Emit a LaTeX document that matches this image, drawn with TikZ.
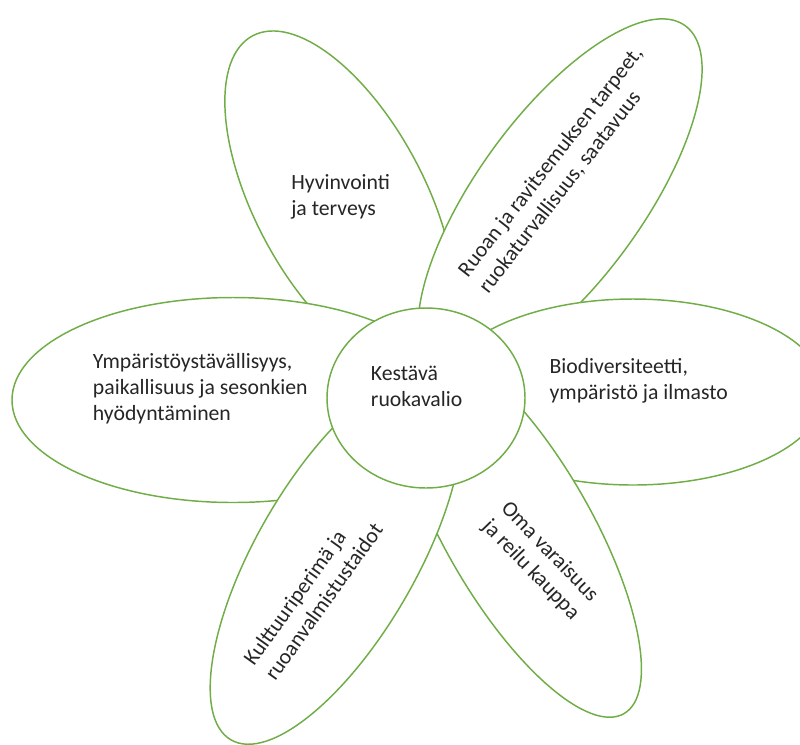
\documentclass[tikz,border=0pt]{standalone}
\usepackage{fontspec}
\setmainfont{Carlito}
\usetikzlibrary{shapes.geometric}
\definecolor{petalgreen}{HTML}{70AD47}
\definecolor{txt}{HTML}{262626}
\begin{document}
\begin{tikzpicture}[x=0.75pt,y=-0.75pt,
  petal/.style={ellipse, draw=petalgreen, line width=1.1pt, fill=white, inner sep=0pt},
  lbl/.style={font=\fontsize{16.3}{19.5}\selectfont, text=txt, inner sep=0pt, align=left}]
\useasboundingbox (0,0) rectangle (800,744);
\node[petal, minimum width=127.5pt, minimum height=279pt, rotate=28] (p1) at (340,200) {};
\node[petal, minimum width=331.5pt, minimum height=153.75pt] (p6) at (233,400) {};
\node[petal, minimum width=124.5pt, minimum height=319.5pt, rotate=-36] (p2) at (560,198) {};
\node[petal, minimum width=288pt, minimum height=139.5pt] (p3) at (633,392) {};
\node[petal, minimum width=109.5pt, minimum height=318pt, rotate=30] (p4) at (518,530) {};
\node[petal, minimum width=120pt, minimum height=315pt, rotate=-30] (p5) at (336,558) {};
\node[petal, minimum width=148.5pt, minimum height=135pt] (c) at (426,398) {};
\node[lbl, anchor=west] (t1) at (291,196.8) {Hyvinvointi\\ja terveys};
\node[lbl, anchor=west] (t6) at (92.7,389) {Ympäristöystävällisyys,\\paikallisuus ja sesonkien\\hyödyntäminen};
\node[lbl, anchor=west] (tc) at (370.7,386.5) {Kestävä\\ruokavalio};
\node[lbl, anchor=west] (t3) at (549.3,380.5) {Biodiversiteetti,\\ympäristö ja ilmasto};
\node[lbl, rotate=52] (t2) at (561,170) {Ruoan ja ravitsemuksen tarpeet,\\ruokaturvallisuus, saatavuus};
\node[lbl, rotate=-46] (t4) at (540,561) {Oma varaisuus\\ja reilu kauppa};
\node[lbl, rotate=54.5] (t5) at (313,594) {Kulttuuriperimä ja\\ruoanvalmistustaidot};
\end{tikzpicture}
\end{document}
